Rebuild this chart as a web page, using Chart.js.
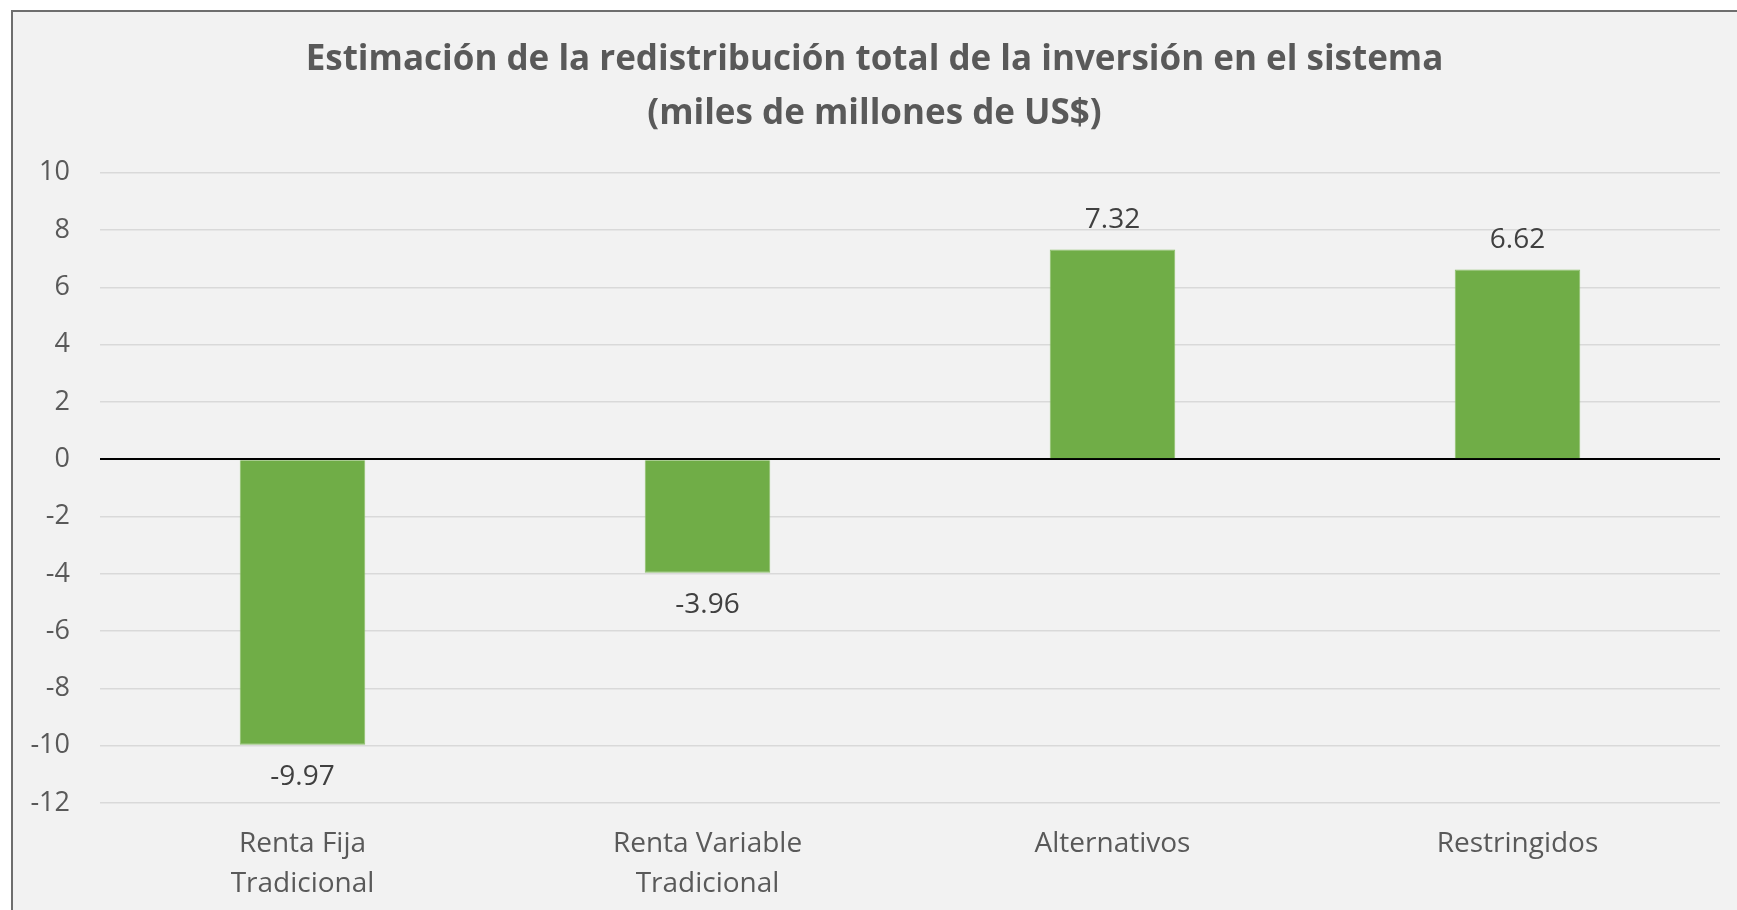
<!DOCTYPE html>
<html>
<head>
<meta charset="utf-8">
<script src="https://cdn.jsdelivr.net/npm/chart.js@4"></script>
<style>
  html, body { margin: 0; padding: 0; background: #ffffff; overflow: hidden; }
  #frame {
    position: absolute; left: 11px; top: 10px; width: 1800px; height: 1000px;
    background: #f2f2f2; border-left: 2px solid #6e6e6e; border-top: 2px solid #6e6e6e;
  }
  #wrap { position: absolute; left: 0; top: 0; width: 1737px; height: 910px; }
</style>
</head>
<body>
<div id="frame"></div>
<div id="wrap"><canvas id="chart" width="1737" height="910"></canvas></div>
<script>
// ➤ Data
const categories = [["Renta Fija", "Tradicional"], ["Renta Variable", "Tradicional"], "Alternativos", "Restringidos"];
const values = [-9.97, -3.96, 7.32, 6.62];
const titleLines = ["Estimación de la redistribución total de la inversión en el sistema", "(miles de millones de US$)"];

const FONT = "'Open Sans', sans-serif";

// ➤ Value labels above / below each bar
const barLabels = {
    id: "barLabels",
    afterDatasetsDraw(chart) {
        const ctx = chart.ctx;
        const meta = chart.getDatasetMeta(0);
        ctx.save();
        ctx.font = "28px " + FONT;
        ctx.fillStyle = "#404040";
        ctx.textAlign = "center";
        ctx.textBaseline = "middle";
        meta.data.forEach((bar, i) => {
            const v = values[i];
            const y = v >= 0 ? bar.y - 30 : bar.y + 32;
            ctx.fillText(v.toFixed(2), bar.x, y);
        });
        ctx.restore();
    }
};

new Chart(document.getElementById("chart"), {
    type: "bar",
    data: {
        labels: categories,
        datasets: [{
            data: values,
            backgroundColor: "#70ad47",
            borderColor: "#8cc06a",
            borderWidth: 1,
            barPercentage: 0.31,
            categoryPercentage: 1
        }]
    },
    options: {
        responsive: false,
        animation: false,
        layout: { padding: { left: 29, right: 17, top: 0, bottom: 6 } },
        plugins: {
            legend: { display: false },
            tooltip: { enabled: false },
            title: {
                display: true,
                text: titleLines,
                color: "#595959",
                font: { family: FONT, size: 35, weight: "bold", lineHeight: 1.54 },
                padding: { top: 33, bottom: 32 }
            }
        },
        scales: {
            x: {
                afterFit(scale) { scale.height = 101; },
                grid: { display: false, drawTicks: false },
                border: { display: false },
                ticks: {
                    color: "#595959",
                    font: { family: FONT, size: 28, lineHeight: 1.43 },
                    padding: 21,
                    maxRotation: 0,
                    autoSkip: false
                }
            },
            y: {
                min: -12,
                max: 10,
                afterFit(scale) { scale.width = 71; },
                ticks: {
                    stepSize: 2,
                    color: "#595959",
                    font: { family: FONT, size: 27 },
                    padding: 30
                },
                border: { display: false },
                grid: {
                    drawTicks: false,
                    color: ctx => ctx.tick && ctx.tick.value === 0 ? "#000000" : "#d9d9d9",
                    lineWidth: ctx => ctx.tick && ctx.tick.value === 0 ? 2 : 1.5
                }
            }
        }
    },
    plugins: [barLabels]
});
</script>
</body>
</html>
